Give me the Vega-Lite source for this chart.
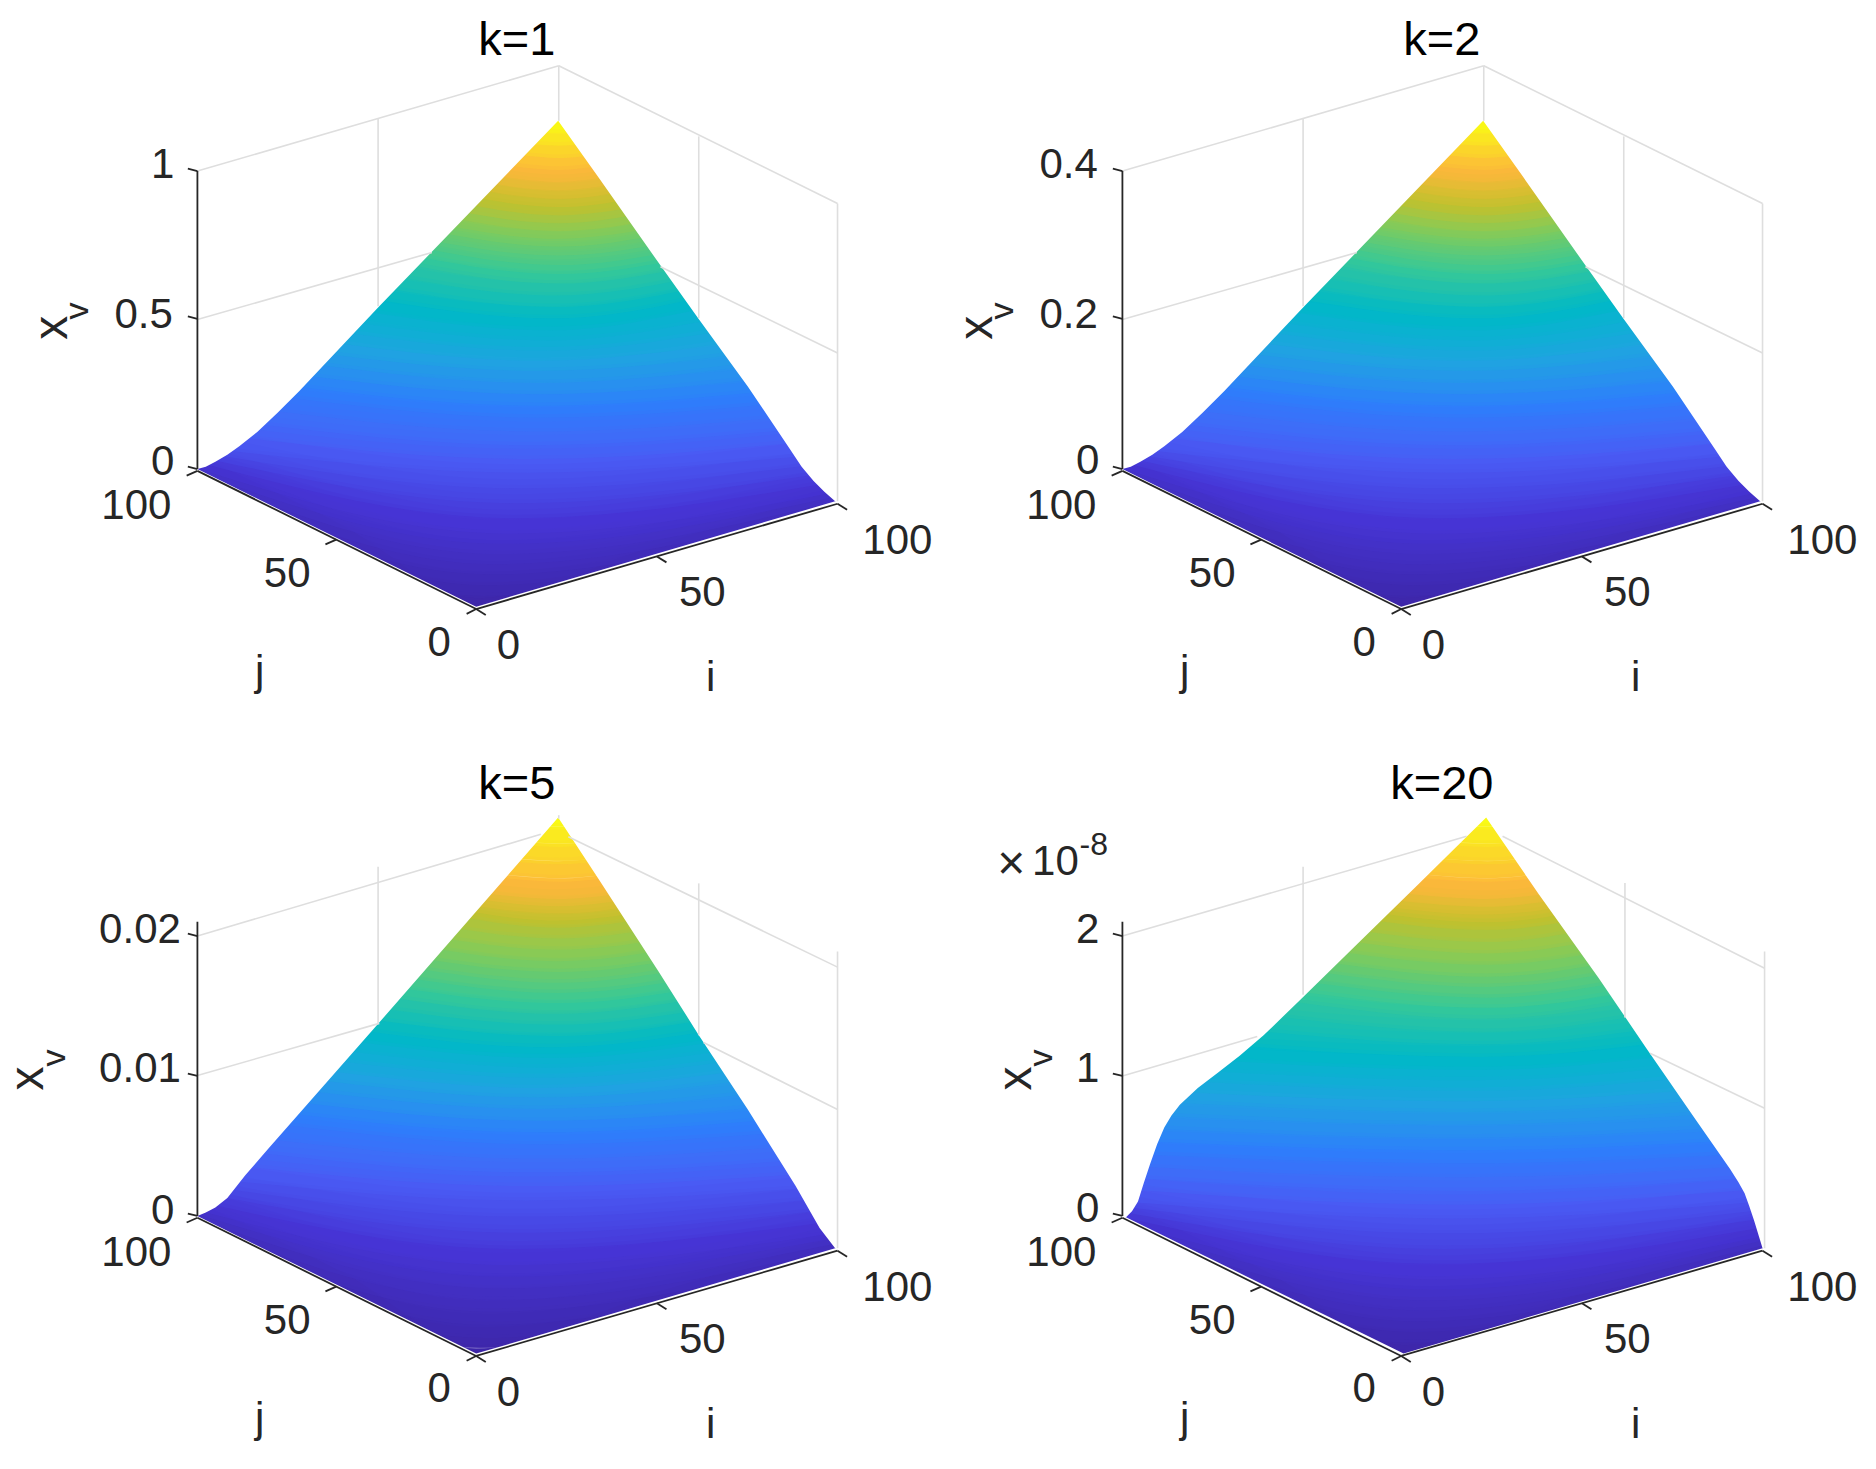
{"$schema":"https://vega.github.io/schema/vega-lite/v6.json","padding":0,"spacing":0,"bounds":"flush","columns":2,"config":{"view":{"stroke":null},"font":"Liberation Sans"},
"datasets":{
"s1":[{"z":0,"x":140,"y":380},{"z":0,"x":280,"y":447},{"z":0,"x":398,"y":510},{"z":0,"x":550,"y":466},{"z":0,"x":723,"y":412},
{"z":0.0125,"x":142,"y":391},{"z":0.0125,"x":401,"y":497},{"z":0.0125,"x":721,"y":417},
{"z":0.025,"x":145,"y":390},{"z":0.025,"x":404,"y":488},{"z":0.025,"x":719,"y":415.5},
{"z":0.0375,"x":147,"y":389},{"z":0.0375,"x":407,"y":479},{"z":0.0375,"x":717,"y":414},
{"z":0.05,"x":149,"y":388},{"z":0.05,"x":410,"y":470},{"z":0.05,"x":715,"y":412},
{"z":0.0625,"x":153,"y":386},{"z":0.0625,"x":414,"y":461.5},{"z":0.0625,"x":712,"y":409},
{"z":0.075,"x":157,"y":384.5},{"z":0.075,"x":417,"y":453},{"z":0.075,"x":709,"y":406},
{"z":0.0875,"x":161,"y":383},{"z":0.0875,"x":421,"y":444.5},{"z":0.0875,"x":706,"y":403},
{"z":0.1,"x":165,"y":381},{"z":0.1,"x":425,"y":436},{"z":0.1,"x":703,"y":400},
{"z":0.125,"x":170,"y":377},{"z":0.125,"x":429,"y":423},{"z":0.125,"x":698,"y":392.5},
{"z":0.15,"x":175,"y":373.5},{"z":0.15,"x":432,"y":410.5},{"z":0.15,"x":692,"y":385},
{"z":0.175,"x":180,"y":370},{"z":0.175,"x":436,"y":398},{"z":0.175,"x":687,"y":377.5},
{"z":0.2,"x":185,"y":366},{"z":0.2,"x":440,"y":385},{"z":0.2,"x":682,"y":370},
{"z":0.225,"x":196,"y":355},{"z":0.225,"x":442,"y":373.5},{"z":0.225,"x":675,"y":359},
{"z":0.25,"x":208,"y":343.5},{"z":0.25,"x":445,"y":362},{"z":0.25,"x":667,"y":348.5},
{"z":0.275,"x":219,"y":332},{"z":0.275,"x":447,"y":350.5},{"z":0.275,"x":660,"y":338},
{"z":0.3,"x":231,"y":321},{"z":0.3,"x":450,"y":339},{"z":0.3,"x":653,"y":327},
{"z":0.325,"x":240,"y":312},{"z":0.325,"x":450,"y":329},{"z":0.325,"x":645,"y":316.5},
{"z":0.35,"x":249,"y":303},{"z":0.35,"x":450,"y":319.5},{"z":0.35,"x":638,"y":306},
{"z":0.375,"x":259,"y":294},{"z":0.375,"x":450,"y":310},{"z":0.375,"x":630,"y":295.5},
{"z":0.4,"x":268,"y":285},{"z":0.4,"x":450,"y":300},{"z":0.4,"x":623,"y":285},
{"z":0.425,"x":277,"y":276},{"z":0.425,"x":452,"y":291.5},{"z":0.425,"x":615,"y":275},
{"z":0.45,"x":286,"y":267.5},{"z":0.45,"x":455,"y":283},{"z":0.45,"x":608,"y":265.5},
{"z":0.475,"x":294,"y":259},{"z":0.475,"x":458,"y":274.5},{"z":0.475,"x":601,"y":255.5},
{"z":0.5,"x":303,"y":250},{"z":0.5,"x":460,"y":266},{"z":0.5,"x":594,"y":246},
{"z":0.525,"x":313,"y":240},{"z":0.525,"x":462,"y":256},{"z":0.525,"x":588,"y":238},
{"z":0.55,"x":322,"y":230.5},{"z":0.55,"x":464,"y":246.5},{"z":0.55,"x":583,"y":230},
{"z":0.575,"x":332,"y":221},{"z":0.575,"x":465,"y":237},{"z":0.575,"x":577,"y":222},
{"z":0.6,"x":342,"y":211},{"z":0.6,"x":466,"y":227},{"z":0.6,"x":571,"y":214},
{"z":0.625,"x":348,"y":204},{"z":0.625,"x":467,"y":219},{"z":0.625,"x":566,"y":207},
{"z":0.65,"x":354,"y":197.5},{"z":0.65,"x":467,"y":211.5},{"z":0.65,"x":562,"y":200},
{"z":0.675,"x":360,"y":191},{"z":0.675,"x":467,"y":203.5},{"z":0.675,"x":557,"y":193},
{"z":0.7,"x":366,"y":184},{"z":0.7,"x":467,"y":196},{"z":0.7,"x":552,"y":186},
{"z":0.725,"x":371,"y":178},{"z":0.725,"x":467,"y":189.5},{"z":0.725,"x":548,"y":180},
{"z":0.75,"x":377,"y":172},{"z":0.75,"x":467,"y":183},{"z":0.75,"x":544,"y":174},
{"z":0.775,"x":382,"y":166},{"z":0.775,"x":467,"y":176.5},{"z":0.775,"x":539,"y":168},
{"z":0.8,"x":388,"y":160},{"z":0.8,"x":467,"y":170},{"z":0.8,"x":535,"y":162},
{"z":0.825,"x":393,"y":154},{"z":0.825,"x":467,"y":163},{"z":0.825,"x":530,"y":155.5},
{"z":0.85,"x":399,"y":148},{"z":0.85,"x":467,"y":156},{"z":0.85,"x":526,"y":149},
{"z":0.875,"x":404,"y":142},{"z":0.875,"x":467,"y":149},{"z":0.875,"x":521,"y":142.5},
{"z":0.9,"x":410,"y":136},{"z":0.9,"x":467,"y":142},{"z":0.9,"x":517,"y":136},
{"z":0.925,"x":416,"y":127},{"z":0.925,"x":467,"y":132},{"z":0.925,"x":511,"y":127},
{"z":0.95,"x":425,"y":118},{"z":0.95,"x":467,"y":122},{"z":0.95,"x":504,"y":118.5},
{"z":0.975,"x":433,"y":110},{"z":0.975,"x":467,"y":111.5},{"z":0.975,"x":498,"y":110},
{"z":1,"x":440,"y":101},{"z":1,"x":467,"y":101},{"z":1,"x":495,"y":101}],
"s3":[{"z":0,"x":140,"y":380},{"z":0,"x":280,"y":447},{"z":0,"x":398,"y":510},{"z":0,"x":550,"y":466},{"z":0,"x":723,"y":412},
{"z":0.0125,"x":143,"y":390.5},{"z":0.0125,"x":401,"y":495},{"z":0.0125,"x":721,"y":416.75},
{"z":0.025,"x":145,"y":389},{"z":0.025,"x":404,"y":484},{"z":0.025,"x":720,"y":414.5},
{"z":0.0375,"x":148,"y":387.5},{"z":0.0375,"x":407,"y":473},{"z":0.0375,"x":718,"y":412.25},
{"z":0.05,"x":151,"y":386},{"z":0.05,"x":410,"y":462},{"z":0.05,"x":716,"y":410},
{"z":0.0625,"x":155,"y":383.75},{"z":0.0625,"x":414,"y":452},{"z":0.0625,"x":713,"y":406.25},
{"z":0.075,"x":159,"y":381.5},{"z":0.075,"x":417,"y":442.5},{"z":0.075,"x":710,"y":402.5},
{"z":0.0875,"x":163,"y":379.25},{"z":0.0875,"x":421,"y":432.75},{"z":0.0875,"x":708,"y":398.75},
{"z":0.1,"x":166,"y":377},{"z":0.1,"x":425,"y":423},{"z":0.1,"x":705,"y":395},
{"z":0.125,"x":171,"y":370.75},{"z":0.125,"x":429,"y":409.5},{"z":0.125,"x":700,"y":385.75},
{"z":0.15,"x":177,"y":364.5},{"z":0.15,"x":432,"y":396},{"z":0.15,"x":695,"y":376.5},
{"z":0.175,"x":182,"y":358.25},{"z":0.175,"x":436,"y":382.5},{"z":0.175,"x":690,"y":367.25},
{"z":0.2,"x":188,"y":352},{"z":0.2,"x":440,"y":369},{"z":0.2,"x":684,"y":358},
{"z":0.225,"x":198,"y":340},{"z":0.225,"x":442,"y":357},{"z":0.225,"x":677,"y":346.5},
{"z":0.25,"x":208,"y":328.5},{"z":0.25,"x":445,"y":345.5},{"z":0.25,"x":670,"y":335},
{"z":0.275,"x":218,"y":317},{"z":0.275,"x":447,"y":334},{"z":0.275,"x":663,"y":323.5},
{"z":0.3,"x":230,"y":305},{"z":0.3,"x":450,"y":322},{"z":0.3,"x":656,"y":312},
{"z":0.325,"x":239,"y":296},{"z":0.325,"x":450,"y":312},{"z":0.325,"x":649,"y":301},
{"z":0.35,"x":248,"y":286.5},{"z":0.35,"x":450,"y":302.5},{"z":0.35,"x":642,"y":290},
{"z":0.375,"x":256,"y":277},{"z":0.375,"x":450,"y":292.5},{"z":0.375,"x":635,"y":279},
{"z":0.4,"x":263,"y":268},{"z":0.4,"x":450,"y":283},{"z":0.4,"x":627,"y":268},
{"z":0.425,"x":269,"y":260},{"z":0.425,"x":452,"y":275},{"z":0.425,"x":622,"y":260},
{"z":0.45,"x":276,"y":251.5},{"z":0.45,"x":455,"y":266.5},{"z":0.45,"x":616,"y":251.5},
{"z":0.475,"x":282,"y":243},{"z":0.475,"x":458,"y":258},{"z":0.475,"x":610,"y":243},
{"z":0.5,"x":288,"y":235},{"z":0.5,"x":460,"y":250},{"z":0.5,"x":605,"y":235},
{"z":0.525,"x":296,"y":226},{"z":0.525,"x":462,"y":241},{"z":0.525,"x":599,"y":226},
{"z":0.55,"x":304,"y":216.5},{"z":0.55,"x":464,"y":231.5},{"z":0.55,"x":594,"y":217},
{"z":0.575,"x":312,"y":207},{"z":0.575,"x":465,"y":222},{"z":0.575,"x":589,"y":209},
{"z":0.6,"x":320,"y":198},{"z":0.6,"x":466,"y":213},{"z":0.6,"x":584,"y":200},
{"z":0.625,"x":327,"y":190},{"z":0.625,"x":467,"y":204},{"z":0.625,"x":579,"y":192},
{"z":0.65,"x":334,"y":182},{"z":0.65,"x":467,"y":195.5},{"z":0.65,"x":574,"y":184},
{"z":0.675,"x":341,"y":174},{"z":0.675,"x":467,"y":187},{"z":0.675,"x":569,"y":176},
{"z":0.7,"x":348,"y":166},{"z":0.7,"x":467,"y":178},{"z":0.7,"x":564,"y":168},
{"z":0.725,"x":355,"y":157},{"z":0.725,"x":467,"y":169},{"z":0.725,"x":558,"y":159},
{"z":0.75,"x":363,"y":148.5},{"z":0.75,"x":467,"y":159.5},{"z":0.75,"x":553,"y":150.5},
{"z":0.775,"x":371,"y":140},{"z":0.775,"x":467,"y":150},{"z":0.775,"x":547,"y":142},
{"z":0.8,"x":379,"y":131},{"z":0.8,"x":467,"y":141},{"z":0.8,"x":542,"y":133},
{"z":0.825,"x":383,"y":126},{"z":0.825,"x":467,"y":135},{"z":0.825,"x":538,"y":127.5},
{"z":0.85,"x":387,"y":121},{"z":0.85,"x":467,"y":129},{"z":0.85,"x":535,"y":122},
{"z":0.875,"x":392,"y":116},{"z":0.875,"x":467,"y":123},{"z":0.875,"x":531,"y":116.5},
{"z":0.9,"x":396,"y":111},{"z":0.9,"x":467,"y":117},{"z":0.9,"x":528,"y":111},
{"z":0.925,"x":407,"y":98},{"z":0.925,"x":467,"y":102.5},{"z":0.925,"x":519,"y":98},
{"z":0.95,"x":419,"y":85},{"z":0.95,"x":467,"y":88},{"z":0.95,"x":510,"y":85},
{"z":0.975,"x":430,"y":72},{"z":0.975,"x":467,"y":73.5},{"z":0.975,"x":501,"y":72},
{"z":1,"x":442,"y":59},{"z":1,"x":467,"y":59},{"z":1,"x":492,"y":59}],
"s4":[{"z":0,"x":140,"y":381},{"z":0,"x":282,"y":448},{"z":0,"x":400,"y":510},{"z":0,"x":552,"y":466},{"z":0,"x":725,"y":412},
{"z":0.0125,"x":144,"y":392},{"z":0.0125,"x":403,"y":497},{"z":0.0125,"x":724,"y":416},
{"z":0.025,"x":145,"y":391},{"z":0.025,"x":406,"y":488},{"z":0.025,"x":723,"y":413.5},
{"z":0.0375,"x":147,"y":390},{"z":0.0375,"x":409,"y":479},{"z":0.0375,"x":722,"y":411},
{"z":0.05,"x":148,"y":389},{"z":0.05,"x":412,"y":470},{"z":0.05,"x":721,"y":408},
{"z":0.0625,"x":149,"y":387.75},{"z":0.0625,"x":416,"y":461},{"z":0.0625,"x":720,"y":405},
{"z":0.075,"x":150,"y":386.5},{"z":0.075,"x":419,"y":452.5},{"z":0.075,"x":719,"y":401.5},
{"z":0.0875,"x":151,"y":385},{"z":0.0875,"x":423,"y":443.5},{"z":0.0875,"x":718,"y":398},
{"z":0.1,"x":152,"y":384},{"z":0.1,"x":427,"y":435},{"z":0.1,"x":718,"y":395},
{"z":0.125,"x":153,"y":380},{"z":0.125,"x":431,"y":422},{"z":0.125,"x":716,"y":388.5},
{"z":0.15,"x":154,"y":376.5},{"z":0.15,"x":434,"y":409.5},{"z":0.15,"x":714,"y":382},
{"z":0.175,"x":155,"y":372.75},{"z":0.175,"x":438,"y":396.5},{"z":0.175,"x":711,"y":375.5},
{"z":0.2,"x":156,"y":369},{"z":0.2,"x":442,"y":384},{"z":0.2,"x":707,"y":369},
{"z":0.225,"x":159,"y":359},{"z":0.225,"x":444,"y":372.5},{"z":0.225,"x":702,"y":359},
{"z":0.25,"x":163,"y":349.5},{"z":0.25,"x":447,"y":361},{"z":0.25,"x":696,"y":349.5},
{"z":0.275,"x":167,"y":340},{"z":0.275,"x":449,"y":349.5},{"z":0.275,"x":689,"y":340},
{"z":0.3,"x":170,"y":330},{"z":0.3,"x":452,"y":338},{"z":0.3,"x":682,"y":330},
{"z":0.325,"x":174,"y":319},{"z":0.325,"x":452,"y":327},{"z":0.325,"x":674,"y":319},
{"z":0.35,"x":181,"y":308.5},{"z":0.35,"x":452,"y":316.5},{"z":0.35,"x":667,"y":308},
{"z":0.375,"x":189,"y":298},{"z":0.375,"x":452,"y":305.5},{"z":0.375,"x":659,"y":296.5},
{"z":0.4,"x":201,"y":287},{"z":0.4,"x":452,"y":295},{"z":0.4,"x":651,"y":285},
{"z":0.425,"x":209,"y":278},{"z":0.425,"x":454,"y":286},{"z":0.425,"x":645,"y":276},
{"z":0.45,"x":225,"y":269.5},{"z":0.45,"x":457,"y":277.5},{"z":0.45,"x":638,"y":266.5},
{"z":0.475,"x":237,"y":261},{"z":0.475,"x":460,"y":268.5},{"z":0.475,"x":631,"y":257},
{"z":0.5,"x":243,"y":252},{"z":0.5,"x":462,"y":260},{"z":0.5,"x":625,"y":248},
{"z":0.525,"x":259,"y":239.5},{"z":0.525,"x":464,"y":249},{"z":0.525,"x":618,"y":236.5},
{"z":0.55,"x":272,"y":227},{"z":0.55,"x":466,"y":238.5},{"z":0.55,"x":610,"y":225},
{"z":0.575,"x":286,"y":214.5},{"z":0.575,"x":468,"y":228},{"z":0.575,"x":602,"y":213.5},
{"z":0.6,"x":301,"y":202},{"z":0.6,"x":469,"y":217},{"z":0.6,"x":594,"y":202},
{"z":0.625,"x":310,"y":194},{"z":0.625,"x":470,"y":208},{"z":0.625,"x":589,"y":194},
{"z":0.65,"x":319,"y":186},{"z":0.65,"x":470,"y":199.5},{"z":0.65,"x":583,"y":186},
{"z":0.675,"x":328,"y":178},{"z":0.675,"x":470,"y":190.5},{"z":0.675,"x":577,"y":178},
{"z":0.7,"x":337,"y":170},{"z":0.7,"x":470,"y":182},{"z":0.7,"x":571,"y":170},
{"z":0.725,"x":345,"y":161},{"z":0.725,"x":470,"y":172},{"z":0.725,"x":565,"y":161},
{"z":0.75,"x":353,"y":152},{"z":0.75,"x":470,"y":162.5},{"z":0.75,"x":559,"y":152},
{"z":0.775,"x":360,"y":143},{"z":0.775,"x":470,"y":153},{"z":0.775,"x":552,"y":143},
{"z":0.8,"x":368,"y":134},{"z":0.8,"x":470,"y":143},{"z":0.8,"x":546,"y":134},
{"z":0.825,"x":373,"y":128},{"z":0.825,"x":470,"y":136.5},{"z":0.825,"x":542,"y":128},
{"z":0.85,"x":378,"y":122.5},{"z":0.85,"x":470,"y":130},{"z":0.85,"x":538,"y":122.5},
{"z":0.875,"x":383,"y":117},{"z":0.875,"x":470,"y":123.5},{"z":0.875,"x":534,"y":117},
{"z":0.9,"x":388,"y":111},{"z":0.9,"x":470,"y":117},{"z":0.9,"x":530,"y":111},
{"z":0.925,"x":402,"y":98},{"z":0.925,"x":470,"y":102.5},{"z":0.925,"x":521,"y":98},
{"z":0.95,"x":416,"y":85},{"z":0.95,"x":470,"y":88},{"z":0.95,"x":512,"y":85},
{"z":0.975,"x":430,"y":72},{"z":0.975,"x":470,"y":73.5},{"z":0.975,"x":503,"y":72},
{"z":1,"x":444,"y":59},{"z":1,"x":470,"y":59},{"z":1,"x":494,"y":59}],
"u1":[{"x":100,"y":405},{"x":165,"y":392},{"x":172,"y":390},{"x":180,"y":386},{"x":190,"y":380},{"x":200,"y":373},{"x":215,"y":361},{"x":232,"y":345},{"x":250,"y":327},{"x":316,"y":257},{"x":466.5,"y":101},{"x":500,"y":148},{"x":550,"y":219},{"x":583.5,"y":266},{"x":625,"y":323},{"x":660,"y":375},{"x":670,"y":390},{"x":680,"y":402},{"x":689,"y":411},{"x":698,"y":419},{"x":760,"y":432}],
"l1":[{"x":100,"y":380},{"x":165,"y":392},{"x":398,"y":507},{"x":698,"y":419},{"x":760,"y":406}],
"u3":[{"x":100,"y":405},{"x":165,"y":392},{"x":172,"y":389},{"x":180,"y":385},{"x":190,"y":377},{"x":205,"y":358},{"x":224,"y":336},{"x":312,"y":236},{"x":466.5,"y":59},{"x":500,"y":110},{"x":550,"y":187},{"x":583.5,"y":240},{"x":625,"y":303},{"x":665,"y":367},{"x":685,"y":402},{"x":698,"y":419},{"x":760,"y":432}],
"l3":[{"x":100,"y":380},{"x":165,"y":392},{"x":398,"y":507},{"x":698,"y":419},{"x":760,"y":406}],
"u4":[{"x":100,"y":406},{"x":168,"y":393},{"x":173,"y":388},{"x":178,"y":380},{"x":183,"y":364},{"x":188,"y":349},{"x":194,"y":332},{"x":200,"y":318},{"x":206,"y":308},{"x":213,"y":299},{"x":228,"y":285},{"x":245,"y":272},{"x":263,"y":258},{"x":283,"y":241},{"x":315,"y":210},{"x":363,"y":163},{"x":413,"y":114},{"x":469,"y":59},{"x":513,"y":123},{"x":563,"y":193},{"x":603,"y":252},{"x":643,"y":310},{"x":673,"y":353},{"x":680,"y":364},{"x":685,"y":373},{"x":689,"y":384},{"x":693,"y":396},{"x":700,"y":419},{"x":760,"y":432}],
"l4":[{"x":100,"y":381},{"x":168,"y":393},{"x":400,"y":507},{"x":700,"y":419},{"x":760,"y":406}],
"f1":[{"x":165,"y":143,"x2":467,"y2":55},{"x":467,"y":55,"x2":700,"y2":170},{"x":700,"y":170,"x2":700,"y2":419},{"x":467,"y":55,"x2":467,"y2":101},{"x":165,"y":267,"x2":361,"y2":211},{"x":552,"y":223,"x2":700,"y2":295},{"x":316,"y":99,"x2":316,"y2":256},{"x":584,"y":114,"x2":584,"y2":266}],
"f3":[{"x":165,"y":158,"x2":452,"y2":73},{"x":475,"y":75,"x2":700,"y2":184},{"x":700,"y":171,"x2":700,"y2":419},{"x":316,"y":100,"x2":316,"y2":231},{"x":584,"y":114,"x2":584,"y2":241},{"x":165,"y":274.6,"x2":317,"y2":231},{"x":588,"y":247,"x2":700,"y2":303},{"x":467,"y":57,"x2":467,"y2":60}],
"f4":[{"x":165,"y":158,"x2":452.7,"y2":74.6},{"x":482.7,"y":74.6,"x2":701.7,"y2":185},{"x":701.7,"y":171,"x2":701.7,"y2":419},{"x":316,"y":100,"x2":316,"y2":207},{"x":585,"y":113.6,"x2":585,"y2":226},{"x":165,"y":275,"x2":277.7,"y2":242},{"x":606,"y":256,"x2":701.7,"y2":302}],
"a1":[{"x":165,"y":143,"x2":165,"y2":392},{"x":165,"y":393.5,"x2":398,"y2":509},{"x":398,"y":509,"x2":700,"y2":421},{"x":157,"y":141,"x2":165,"y2":143},{"x":157,"y":264.5,"x2":165,"y2":266.5},{"x":157,"y":390,"x2":165,"y2":392},{"x":156,"y":397.5,"x2":165,"y2":393.5},{"x":272,"y":455,"x2":281,"y2":451},{"x":390,"y":513,"x2":398,"y2":509},{"x":398,"y":509,"x2":406,"y2":514},{"x":549,"y":465,"x2":557,"y2":470},{"x":700,"y":421,"x2":708,"y2":426}],
"a3":[{"x":165,"y":146,"x2":165,"y2":392},{"x":165,"y":393.5,"x2":398,"y2":509},{"x":398,"y":509,"x2":700,"y2":421},{"x":157,"y":156,"x2":165,"y2":158},{"x":157,"y":273,"x2":165,"y2":275},{"x":157,"y":390,"x2":165,"y2":392},{"x":156,"y":397.5,"x2":165,"y2":393.5},{"x":272,"y":455,"x2":281,"y2":451},{"x":390,"y":513,"x2":398,"y2":509},{"x":398,"y":509,"x2":406,"y2":514},{"x":549,"y":465,"x2":557,"y2":470},{"x":700,"y":421,"x2":708,"y2":426}],
"ground":[{"label":"100","x":114,"y":423},{"label":"50","x":240,"y":480},{"label":"0","x":367,"y":537},{"label":"0","x":425,"y":540},{"label":"50","x":587,"y":496},{"label":"100","x":750,"y":452},{"label":"j","x":217,"y":562},{"label":"i","x":594,"y":567}]
},
"concat":[
{"width":925,"height":747,"encoding":{"x":{"field":"x","type":"quantitative","scale":{"domain":[0,773.1],"nice":false,"zero":false},"axis":null},"y":{"field":"y","type":"quantitative","scale":{"domain":[624.3,0],"nice":false,"zero":false},"axis":null}},"layer":[
{"data":{"name":"s1"},"mark":{"type":"line","strokeWidth":17,"interpolate":"monotone","strokeCap":"butt"},"encoding":{"detail":{"field":"z"},"color":{"field":"z","type":"quantitative","legend":null,"scale":{"interpolate":"rgb","domain":[0,0.1,0.2,0.3,0.4,0.5,0.6,0.7,0.8,0.9,1],"range":["#3d26a7","#4636d6","#4a5cf5","#2f7ffb","#1fa5e0","#00b8c8","#35c89a","#7ccb60","#c4c22c","#fdb73c","#f9fb15"]}}}},
{"data":{"name":"s1"},"mark":{"type":"line","strokeWidth":24,"opacity":0.45,"interpolate":"monotone","strokeCap":"butt"},"encoding":{"detail":{"field":"z"},"color":{"field":"z","type":"quantitative","legend":null}}},
{"data":{"name":"u1"},"mark":{"type":"area","fill":"white"},"encoding":{"y2":{"datum":0}}},
{"data":{"name":"l1"},"mark":{"type":"area","fill":"white"},"encoding":{"y2":{"datum":624.3}}},
{"data":{"name":"f1"},"mark":{"type":"rule","stroke":"#dedede","strokeWidth":1.6},"encoding":{"x2":{"field":"x2"},"y2":{"field":"y2"}}},
{"data":{"name":"a1"},"mark":{"type":"rule","stroke":"#262626","strokeWidth":1.8},"encoding":{"x2":{"field":"x2"},"y2":{"field":"y2"}}},
{"data":{"values":[{"label":"1","x":136,"y":138},{"label":"0.5","x":120,"y":263},{"label":"0","x":136,"y":386}]},"mark":{"type":"text","fontSize":42,"fill":"#262626"},"encoding":{"text":{"field":"label"}}},
{"data":{"name":"ground"},"mark":{"type":"text","fontSize":42,"fill":"#262626"},"encoding":{"text":{"field":"label"}}},
{"data":{"values":[{"label":"k=1","x":432,"y":34}]},"mark":{"type":"text","fontSize":47,"fill":"black"},"encoding":{"text":{"field":"label"}}},
{"data":{"values":[{"label":"x","x":44,"y":274}]},"mark":{"type":"text","fontSize":48,"angle":270,"fill":"#262626"},"encoding":{"text":{"field":"label"}}},
{"data":{"values":[{"label":"v","x":65,"y":260}]},"mark":{"type":"text","fontSize":34,"angle":270,"fill":"#262626"},"encoding":{"text":{"field":"label"}}}
]},
{"width":925,"height":747,"encoding":{"x":{"field":"x","type":"quantitative","scale":{"domain":[0,773.1],"nice":false,"zero":false},"axis":null},"y":{"field":"y","type":"quantitative","scale":{"domain":[624.3,0],"nice":false,"zero":false},"axis":null}},"layer":[
{"data":{"name":"s1"},"mark":{"type":"line","strokeWidth":17,"interpolate":"monotone","strokeCap":"butt"},"encoding":{"detail":{"field":"z"},"color":{"field":"z","type":"quantitative","legend":null,"scale":{"interpolate":"rgb","domain":[0,0.1,0.2,0.3,0.4,0.5,0.6,0.7,0.8,0.9,1],"range":["#3d26a7","#4636d6","#4a5cf5","#2f7ffb","#1fa5e0","#00b8c8","#35c89a","#7ccb60","#c4c22c","#fdb73c","#f9fb15"]}}}},
{"data":{"name":"s1"},"mark":{"type":"line","strokeWidth":24,"opacity":0.45,"interpolate":"monotone","strokeCap":"butt"},"encoding":{"detail":{"field":"z"},"color":{"field":"z","type":"quantitative","legend":null}}},
{"data":{"name":"u1"},"mark":{"type":"area","fill":"white"},"encoding":{"y2":{"datum":0}}},
{"data":{"name":"l1"},"mark":{"type":"area","fill":"white"},"encoding":{"y2":{"datum":624.3}}},
{"data":{"name":"f1"},"mark":{"type":"rule","stroke":"#dedede","strokeWidth":1.6},"encoding":{"x2":{"field":"x2"},"y2":{"field":"y2"}}},
{"data":{"name":"a1"},"mark":{"type":"rule","stroke":"#262626","strokeWidth":1.8},"encoding":{"x2":{"field":"x2"},"y2":{"field":"y2"}}},
{"data":{"values":[{"label":"0.4","x":120,"y":138},{"label":"0.2","x":120,"y":263},{"label":"0","x":136,"y":385}]},"mark":{"type":"text","fontSize":42,"fill":"#262626"},"encoding":{"text":{"field":"label"}}},
{"data":{"name":"ground"},"mark":{"type":"text","fontSize":42,"fill":"#262626"},"encoding":{"text":{"field":"label"}}},
{"data":{"values":[{"label":"k=2","x":432,"y":34}]},"mark":{"type":"text","fontSize":47,"fill":"black"},"encoding":{"text":{"field":"label"}}},
{"data":{"values":[{"label":"x","x":44,"y":274}]},"mark":{"type":"text","fontSize":48,"angle":270,"fill":"#262626"},"encoding":{"text":{"field":"label"}}},
{"data":{"values":[{"label":"v","x":65,"y":260}]},"mark":{"type":"text","fontSize":34,"angle":270,"fill":"#262626"},"encoding":{"text":{"field":"label"}}}
]},
{"width":925,"height":722,"encoding":{"x":{"field":"x","type":"quantitative","scale":{"domain":[0,773.1],"nice":false,"zero":false},"axis":null},"y":{"field":"y","type":"quantitative","scale":{"domain":[603.5,0],"nice":false,"zero":false},"axis":null}},"layer":[
{"data":{"name":"s3"},"mark":{"type":"line","strokeWidth":17,"interpolate":"monotone","strokeCap":"butt"},"encoding":{"detail":{"field":"z"},"color":{"field":"z","type":"quantitative","legend":null,"scale":{"interpolate":"rgb","domain":[0,0.1,0.2,0.3,0.4,0.5,0.6,0.7,0.8,0.9,1],"range":["#3d26a7","#4636d6","#4a5cf5","#2f7ffb","#1fa5e0","#00b8c8","#35c89a","#7ccb60","#c4c22c","#fdb73c","#f9fb15"]}}}},
{"data":{"name":"s3"},"mark":{"type":"line","strokeWidth":24,"opacity":0.45,"interpolate":"monotone","strokeCap":"butt"},"encoding":{"detail":{"field":"z"},"color":{"field":"z","type":"quantitative","legend":null}}},
{"data":{"name":"u3"},"mark":{"type":"area","fill":"white"},"encoding":{"y2":{"datum":0}}},
{"data":{"name":"l3"},"mark":{"type":"area","fill":"white"},"encoding":{"y2":{"datum":603.5}}},
{"data":{"name":"f3"},"mark":{"type":"rule","stroke":"#dedede","strokeWidth":1.6},"encoding":{"x2":{"field":"x2"},"y2":{"field":"y2"}}},
{"data":{"name":"a3"},"mark":{"type":"rule","stroke":"#262626","strokeWidth":1.8},"encoding":{"x2":{"field":"x2"},"y2":{"field":"y2"}}},
{"data":{"values":[{"label":"0.02","x":117,"y":153},{"label":"0.01","x":117,"y":269},{"label":"0","x":136,"y":388}]},"mark":{"type":"text","fontSize":42,"fill":"#262626"},"encoding":{"text":{"field":"label"}}},
{"data":{"name":"ground"},"mark":{"type":"text","fontSize":42,"fill":"#262626"},"encoding":{"text":{"field":"label"}}},
{"data":{"values":[{"label":"k=5","x":432,"y":32}]},"mark":{"type":"text","fontSize":47,"fill":"black"},"encoding":{"text":{"field":"label"}}},
{"data":{"values":[{"label":"x","x":24,"y":277}]},"mark":{"type":"text","fontSize":48,"angle":270,"fill":"#262626"},"encoding":{"text":{"field":"label"}}},
{"data":{"values":[{"label":"v","x":46,"y":260}]},"mark":{"type":"text","fontSize":34,"angle":270,"fill":"#262626"},"encoding":{"text":{"field":"label"}}}
]},
{"width":925,"height":722,"encoding":{"x":{"field":"x","type":"quantitative","scale":{"domain":[0,773.1],"nice":false,"zero":false},"axis":null},"y":{"field":"y","type":"quantitative","scale":{"domain":[603.5,0],"nice":false,"zero":false},"axis":null}},"layer":[
{"data":{"name":"s4"},"mark":{"type":"line","strokeWidth":17,"interpolate":"monotone","strokeCap":"butt"},"encoding":{"detail":{"field":"z"},"color":{"field":"z","type":"quantitative","legend":null,"scale":{"interpolate":"rgb","domain":[0,0.1,0.2,0.3,0.4,0.5,0.6,0.7,0.8,0.9,1],"range":["#3d26a7","#4636d6","#4a5cf5","#2f7ffb","#1fa5e0","#00b8c8","#35c89a","#7ccb60","#c4c22c","#fdb73c","#f9fb15"]}}}},
{"data":{"name":"s4"},"mark":{"type":"line","strokeWidth":24,"opacity":0.45,"interpolate":"monotone","strokeCap":"butt"},"encoding":{"detail":{"field":"z"},"color":{"field":"z","type":"quantitative","legend":null}}},
{"data":{"name":"u4"},"mark":{"type":"area","fill":"white"},"encoding":{"y2":{"datum":0}}},
{"data":{"name":"l4"},"mark":{"type":"area","fill":"white"},"encoding":{"y2":{"datum":603.5}}},
{"data":{"name":"f4"},"mark":{"type":"rule","stroke":"#dedede","strokeWidth":1.6},"encoding":{"x2":{"field":"x2"},"y2":{"field":"y2"}}},
{"data":{"name":"a3"},"mark":{"type":"rule","stroke":"#262626","strokeWidth":1.8},"encoding":{"x2":{"field":"x2"},"y2":{"field":"y2"}}},
{"data":{"values":[{"label":"2","x":136,"y":153},{"label":"1","x":136,"y":269},{"label":"0","x":136,"y":386},{"label":"10","x":109,"y":96}]},"mark":{"type":"text","fontSize":42,"fill":"#262626"},"encoding":{"text":{"field":"label"}}},
{"data":{"name":"ground"},"mark":{"type":"text","fontSize":42,"fill":"#262626"},"encoding":{"text":{"field":"label"}}},
{"data":{"values":[{"label":"k=20","x":432,"y":32}]},"mark":{"type":"text","fontSize":47,"fill":"black"},"encoding":{"text":{"field":"label"}}},
{"data":{"values":[{"label":"-8","x":141,"y":82}]},"mark":{"type":"text","fontSize":32,"fill":"#262626"},"encoding":{"text":{"field":"label"}}},
{"data":{"values":[{"label":"×","x":72,"y":99}]},"mark":{"type":"text","fontSize":48,"fill":"#262626"},"encoding":{"text":{"field":"label"}}},
{"data":{"values":[{"label":"x","x":77,"y":277}]},"mark":{"type":"text","fontSize":48,"angle":270,"fill":"#262626"},"encoding":{"text":{"field":"label"}}},
{"data":{"values":[{"label":"v","x":98,"y":260}]},"mark":{"type":"text","fontSize":34,"angle":270,"fill":"#262626"},"encoding":{"text":{"field":"label"}}}
]}
]}
